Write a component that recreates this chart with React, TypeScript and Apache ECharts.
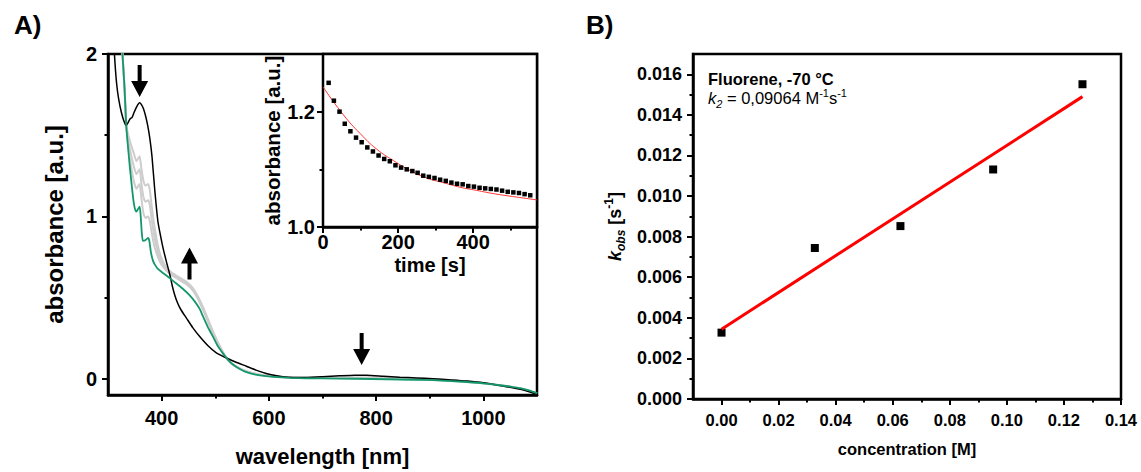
import React, { useEffect, useRef } from 'react';
import * as echarts from 'echarts';

const FONT = "'Liberation Sans', Arial, Helvetica, sans-serif";

// ---------------- Panel A: UV/Vis spectra ----------------
const blackSpectrum: [number, number][] = [
  [305, 2.45], [312, 2.0], [316, 1.82], [320, 1.72], [325, 1.64], [330, 1.585], [334, 1.56], [337, 1.575],
  [341, 1.6], [345, 1.61], [348, 1.635], [352, 1.665], [356, 1.69], [359, 1.7], [362, 1.69], [366, 1.665],
  [370, 1.62], [374, 1.56], [378, 1.48], [382, 1.37], [387, 1.17], [393, 0.97], [398, 0.88], [403, 0.8],
  [409, 0.72], [415, 0.645], [420, 0.57], [425, 0.51], [430, 0.465], [436, 0.425], [446, 0.375], [458, 0.315],
  [471, 0.26], [486, 0.205], [502, 0.16], [521, 0.128], [540, 0.1], [558, 0.077], [576, 0.053], [595, 0.033],
  [612, 0.02], [626, 0.012], [645, 0.008], [670, 0.008], [700, 0.012], [732, 0.018], [760, 0.022], [782, 0.022],
  [813, 0.016], [844, 0.01], [875, 0.005], [906, 0.0], [940, -0.007], [969, -0.014], [1000, -0.025],
  [1031, -0.042], [1055, -0.056], [1075, -0.07], [1090, -0.085], [1100, -0.097],
];

const greySpectrum1: [number, number][] = [
  [315, 2.5], [322, 2.25], [327, 2.0], [331, 1.78], [334, 1.56], [338, 1.5], [343, 1.44], [348, 1.39],
  [353, 1.34], [357, 1.36], [359, 1.37], [362, 1.3], [366, 1.22], [370, 1.19], [375, 1.2], [378, 1.16],
  [382, 1.05], [387, 0.93], [393, 0.82], [400, 0.74], [409, 0.685], [418, 0.655], [430, 0.63], [445, 0.6],
  [458, 0.56], [468, 0.505], [478, 0.435], [488, 0.355], [498, 0.275], [508, 0.205], [518, 0.145], [530, 0.097],
  [545, 0.066], [560, 0.045], [580, 0.028], [600, 0.018], [640, 0.009], [700, 0.007], [780, 0.008], [850, 0.003],
  [906, -0.005], [969, -0.016], [1031, -0.04], [1068, -0.06], [1100, -0.092],
];

const greySpectrum2: [number, number][] = [
  [315, 2.5], [322, 2.25], [327, 2.0], [331, 1.78], [334, 1.56], [338, 1.46], [343, 1.38], [348, 1.31],
  [353, 1.26], [357, 1.28], [359, 1.29], [362, 1.21], [366, 1.12], [370, 1.09], [375, 1.1], [378, 1.07],
  [382, 0.97], [387, 0.87], [393, 0.78], [400, 0.72], [409, 0.675], [418, 0.648], [430, 0.622], [445, 0.592],
  [458, 0.552], [468, 0.497], [478, 0.425], [488, 0.345], [498, 0.268], [508, 0.2], [518, 0.14], [530, 0.094],
  [545, 0.064], [560, 0.044], [580, 0.027], [600, 0.017], [640, 0.008], [700, 0.005], [780, 0.005], [850, 0.001],
  [906, -0.006], [969, -0.017], [1031, -0.04], [1068, -0.06], [1100, -0.091],
];

const greySpectrum3: [number, number][] = [
  [315, 2.5], [322, 2.25], [327, 2.0], [331, 1.78], [334, 1.56], [338, 1.42], [343, 1.31], [348, 1.22],
  [353, 1.17], [357, 1.19], [359, 1.2], [362, 1.12], [366, 1.02], [370, 0.99], [375, 1.0], [378, 0.97],
  [382, 0.89], [387, 0.81], [393, 0.75], [400, 0.7], [409, 0.665], [418, 0.64], [430, 0.615], [445, 0.585],
  [458, 0.545], [468, 0.49], [478, 0.418], [488, 0.338], [498, 0.262], [508, 0.196], [518, 0.137], [530, 0.092],
  [545, 0.063], [560, 0.043], [580, 0.027], [600, 0.017], [640, 0.007], [700, 0.004], [780, 0.003], [850, 0.0],
  [906, -0.007], [969, -0.018], [1031, -0.04], [1068, -0.059], [1100, -0.09],
];

const greenSpectrum: [number, number][] = [
  [315, 2.5], [322, 2.25], [327, 2.0], [331, 1.78], [334, 1.56], [337, 1.44], [340.5, 1.31], [344, 1.2],
  [347, 1.11], [350, 1.05], [353, 1.03], [356, 1.045], [359, 1.06], [361, 1.0], [363, 0.9], [365, 0.85],
  [369, 0.852], [374.6, 0.867], [377, 0.85], [380, 0.78], [384, 0.726], [388, 0.7], [393, 0.677], [400, 0.658],
  [409, 0.636], [418, 0.612], [428, 0.585], [440, 0.553], [452, 0.515], [462, 0.475], [471, 0.43], [477, 0.385],
  [486, 0.32], [496, 0.258], [505, 0.2], [514, 0.158], [523, 0.12], [533, 0.088], [545, 0.062], [558, 0.041],
  [575, 0.026], [595, 0.016], [615, 0.01], [639, 0.006], [670, 0.003], [701, 0.002], [763, 0.0], [820, -0.003],
  [870, -0.006], [906, -0.009], [940, -0.014], [969, -0.02], [1000, -0.028], [1031, -0.04], [1050, -0.048],
  [1068, -0.058], [1085, -0.072], [1100, -0.089],
];

// arrows: [wavelength, absorbance at arrow centre, rotation (180 = pointing down)]
const arrowMarks: [number, number, number][] = [
  [359, 1.834, 180],
  [452, 0.71, 0],
  [773, 0.184, 180],
];

const mainXTicks = [400, 600, 800, 1000];
const mainXMinorTicks = [500, 700, 900];
const mainYTicks = [0, 1, 2];
const mainYMinorTicks = [0.5, 1.5];

// ---------------- Panel A inset: kinetic trace ----------------
const insetTime = [
  15, 29, 44, 58, 73, 88, 103, 118, 133, 148, 163, 178, 193, 208, 223, 238, 252, 267, 282, 297,
  312, 327, 342, 357, 372, 387, 402, 417, 432, 447, 462, 477, 492, 507, 522, 537, 552,
];
const insetAbs = [
  1.25, 1.219, 1.2, 1.179, 1.166, 1.155, 1.147, 1.138, 1.131, 1.124, 1.118, 1.114, 1.107, 1.103, 1.1, 1.097,
  1.094, 1.089, 1.087, 1.085, 1.082, 1.08, 1.077, 1.075, 1.074, 1.071, 1.07, 1.068, 1.067, 1.066, 1.065,
  1.063, 1.061, 1.06, 1.059, 1.057, 1.055,
];
const insetFit: [number, number][] = [
  [0, 1.243], [55, 1.194], [99, 1.162], [143, 1.135], [188, 1.115], [232, 1.098], [276, 1.085],
  [320, 1.077], [365, 1.069], [409, 1.0635], [453, 1.058], [498, 1.0535], [542, 1.0495], [570, 1.047],
];
const insetXTicks = [0, 200, 400];
const insetXMinorTicks = [100, 300, 500];
const insetYTicks = [1.0, 1.2];
const insetYMinorTicks = [1.1];

// ---------------- Panel B: k_obs vs concentration ----------------
const concentrations = [0.0, 0.0327, 0.0627, 0.0952, 0.1265];
const kobsValues = [0.00327, 0.00744, 0.00852, 0.01131, 0.01551];
const fitLineB: [number, number][] = [[0.0, 0.00344], [0.1265, 0.0149]];
const bXTicks = [0, 0.02, 0.04, 0.06, 0.08, 0.1, 0.12, 0.14];
const bXMinorTicks = [0.01, 0.03, 0.05, 0.07, 0.09, 0.11, 0.13];
const bYTicks = [0, 0.002, 0.004, 0.006, 0.008, 0.01, 0.012, 0.014, 0.016];
const bYMinorTicks = [0.001, 0.003, 0.005, 0.007, 0.009, 0.011, 0.013, 0.015];

const ARROW_PATH = 'path://M8.5,0 L17,16 L10.5,16 L10.5,32 L6.5,32 L6.5,16 L0,16 Z';

function majorAxis(o: any) {
  return {
    type: 'value',
    gridIndex: o.grid,
    min: o.min,
    max: o.max,
    position: o.position,
    axisLine: { show: true, onZero: false, lineStyle: { color: '#000', width: 2.5 } },
    axisTick: { show: true, customValues: o.ticks, length: 6, lineStyle: { color: '#000', width: 2 } },
    axisLabel: {
      show: true,
      customValues: o.ticks,
      formatter: o.fmt,
      margin: o.margin,
      fontSize: o.labelSize,
      fontWeight: 'bold',
      fontFamily: FONT,
      color: '#000',
    },
    splitLine: { show: false },
    name: o.name,
    nameLocation: 'middle',
    nameGap: o.nameGap,
    nameRotate: o.nameRotate,
    nameTextStyle: {
      fontSize: o.nameSize,
      fontWeight: 'bold',
      fontFamily: FONT,
      color: '#000',
      rich: o.rich,
    },
  };
}

function minorAxis(o: any) {
  return {
    type: 'value',
    gridIndex: o.grid,
    min: o.min,
    max: o.max,
    position: o.position,
    axisLine: { show: false, onZero: false },
    axisTick: { show: true, customValues: o.ticks, length: 3.5, lineStyle: { color: '#000', width: 2 } },
    axisLabel: { show: false },
    splitLine: { show: false },
  };
}

export default function App() {
  const ref = useRef<HTMLDivElement>(null);

  useEffect(() => {
    if (!ref.current) return;
    const chart = echarts.init(ref.current, undefined, { renderer: 'svg' });

    const richB = {
      k: { fontStyle: 'italic', fontWeight: 'bold', fontSize: 18, lineHeight: 24, fontFamily: FONT, color: '#000' },
      sub: { fontStyle: 'italic', fontWeight: 'bold', fontSize: 12, lineHeight: 12, verticalAlign: 'bottom', fontFamily: FONT, color: '#000' },
      n: { fontWeight: 'bold', fontSize: 18, lineHeight: 24, fontFamily: FONT, color: '#000' },
      sup: { fontWeight: 'bold', fontSize: 12, lineHeight: 12, verticalAlign: 'top', fontFamily: FONT, color: '#000' },
    };

    const lineBase = { type: 'line', showSymbol: false, symbol: 'none', smooth: 0.2, xAxisIndex: 0, yAxisIndex: 0 };

    chart.setOption({
      animation: false,
      backgroundColor: '#fff',
      grid: [
        { left: 108, top: 54, width: 429, height: 345, show: true, borderColor: '#000', borderWidth: 2.5, backgroundColor: 'transparent' },
        { left: 323, top: 54, width: 214, height: 173, show: true, borderColor: '#000', borderWidth: 2.5, backgroundColor: '#fff', z: 3 },
        { left: 693, top: 54, width: 428, height: 345, show: true, borderColor: '#000', borderWidth: 2.5, backgroundColor: 'transparent' },
      ],
      xAxis: [
        majorAxis({ grid: 0, min: 300, max: 1100, position: 'bottom', ticks: mainXTicks, fmt: (v: number) => String(v), margin: 13, labelSize: 20, name: 'wavelength [nm]', nameGap: 50, nameSize: 22 }),
        minorAxis({ grid: 0, min: 300, max: 1100, position: 'bottom', ticks: mainXMinorTicks }),
        majorAxis({ grid: 1, min: 0, max: 570, position: 'bottom', ticks: insetXTicks, fmt: (v: number) => String(v), margin: 5, labelSize: 20, name: 'time [s]', nameGap: 28, nameSize: 20 }),
        minorAxis({ grid: 1, min: 0, max: 570, position: 'bottom', ticks: insetXMinorTicks }),
        majorAxis({ grid: 2, min: -0.01, max: 0.14, position: 'bottom', ticks: bXTicks, fmt: (v: number) => v.toFixed(2), margin: 12, labelSize: 16.5, name: 'concentration [M]', nameGap: 41, nameSize: 16.5 }),
        minorAxis({ grid: 2, min: -0.01, max: 0.14, position: 'bottom', ticks: bXMinorTicks }),
      ],
      yAxis: [
        majorAxis({ grid: 0, min: -0.1, max: 2, position: 'left', ticks: mainYTicks, fmt: (v: number) => String(v), margin: 11, labelSize: 20, name: 'absorbance [a.u.]', nameGap: 42, nameRotate: 90, nameSize: 24 }),
        minorAxis({ grid: 0, min: -0.1, max: 2, position: 'left', ticks: mainYMinorTicks }),
        majorAxis({ grid: 1, min: 1.0, max: 1.3, position: 'left', ticks: insetYTicks, fmt: (v: number) => v.toFixed(1), margin: 8, labelSize: 20, name: 'absorbance [a.u.]', nameGap: 39, nameRotate: 90, nameSize: 20.5 }),
        minorAxis({ grid: 1, min: 1.0, max: 1.3, position: 'left', ticks: insetYMinorTicks }),
        majorAxis({ grid: 2, min: 0, max: 0.017, position: 'left', ticks: bYTicks, fmt: (v: number) => v.toFixed(3), margin: 11, labelSize: 18, name: '{k|k}{sub|obs}{n| [s}{sup|-1}{n|]}', nameGap: 66, nameRotate: 90, nameSize: 18, rich: richB }),
        minorAxis({ grid: 2, min: 0, max: 0.017, position: 'left', ticks: bYMinorTicks }),
      ],
      series: [
        { ...lineBase, name: 'intermediate 1', data: greySpectrum1, lineStyle: { color: '#cdcdcd', width: 2 } },
        { ...lineBase, name: 'intermediate 2', data: greySpectrum2, lineStyle: { color: '#cdcdcd', width: 2 } },
        { ...lineBase, name: 'intermediate 3', data: greySpectrum3, lineStyle: { color: '#cdcdcd', width: 2 } },
        { ...lineBase, name: 'initial', data: blackSpectrum, lineStyle: { color: '#000', width: 1.5 } },
        { ...lineBase, name: 'final', data: greenSpectrum, lineStyle: { color: '#14976a', width: 1.8 } },
        {
          type: 'scatter', name: 'arrows', xAxisIndex: 0, yAxisIndex: 0,
          symbol: ARROW_PATH, symbolSize: [17, 32], symbolKeepAspect: false,
          itemStyle: { color: '#000', opacity: 1 },
          data: arrowMarks.map(([x, y, r]) => ({ value: [x, y], symbolRotate: r })),
        },
        {
          type: 'line', name: 'fit', xAxisIndex: 2, yAxisIndex: 2, showSymbol: false, symbol: 'none', smooth: true,
          data: insetFit, lineStyle: { color: '#ff3030', width: 1 }, z: 4,
        },
        {
          type: 'scatter', name: 'trace', xAxisIndex: 2, yAxisIndex: 2, symbol: 'rect', symbolSize: 4.5,
          itemStyle: { color: '#000', opacity: 1 }, z: 5,
          data: insetTime.map((t, i) => [t, insetAbs[i]]),
        },
        {
          type: 'line', name: 'linear fit', xAxisIndex: 4, yAxisIndex: 4, showSymbol: false, symbol: 'none',
          data: fitLineB, lineStyle: { color: '#ff0000', width: 3 },
        },
        {
          type: 'scatter', name: 'kobs', xAxisIndex: 4, yAxisIndex: 4, symbol: 'rect', symbolSize: 8,
          itemStyle: { color: '#000', opacity: 1 },
          data: concentrations.map((c, i) => [c, kobsValues[i]]),
        },
      ],
      graphic: [
        { type: 'text', x: 14, y: 25, style: { text: 'A)', fontSize: 26, fontWeight: 'bold', fontFamily: FONT, fill: '#000', align: 'left', verticalAlign: 'middle' } },
        { type: 'text', x: 586, y: 25, style: { text: 'B)', fontSize: 26, fontWeight: 'bold', fontFamily: FONT, fill: '#000', align: 'left', verticalAlign: 'middle' } },
        { type: 'text', x: 708, y: 79, style: { text: 'Fluorene, -70 °C', fontSize: 16.5, fontWeight: 'bold', fontFamily: FONT, fill: '#000', align: 'left', verticalAlign: 'middle' } },
        {
          type: 'text', x: 708, y: 98,
          style: {
            text: '{i|k}{isub|2}{n| = 0,09064 M}{sup|-1}{n|s}{sup|-1}',
            align: 'left', verticalAlign: 'middle',
            rich: {
              i: { fontStyle: 'italic', fontSize: 16.5, lineHeight: 22, fontFamily: FONT, fill: '#000' },
              isub: { fontStyle: 'italic', fontSize: 11, lineHeight: 11, verticalAlign: 'bottom', fontFamily: FONT, fill: '#000' },
              n: { fontSize: 16.5, lineHeight: 22, fontFamily: FONT, fill: '#000' },
              sup: { fontSize: 11, lineHeight: 11, verticalAlign: 'top', fontFamily: FONT, fill: '#000' },
            },
          },
        },
      ],
    });

    return () => chart.dispose();
  }, []);

  return <div ref={ref} style={{ position: 'absolute', left: 0, top: 0, width: 1141, height: 472 }} />;
}
